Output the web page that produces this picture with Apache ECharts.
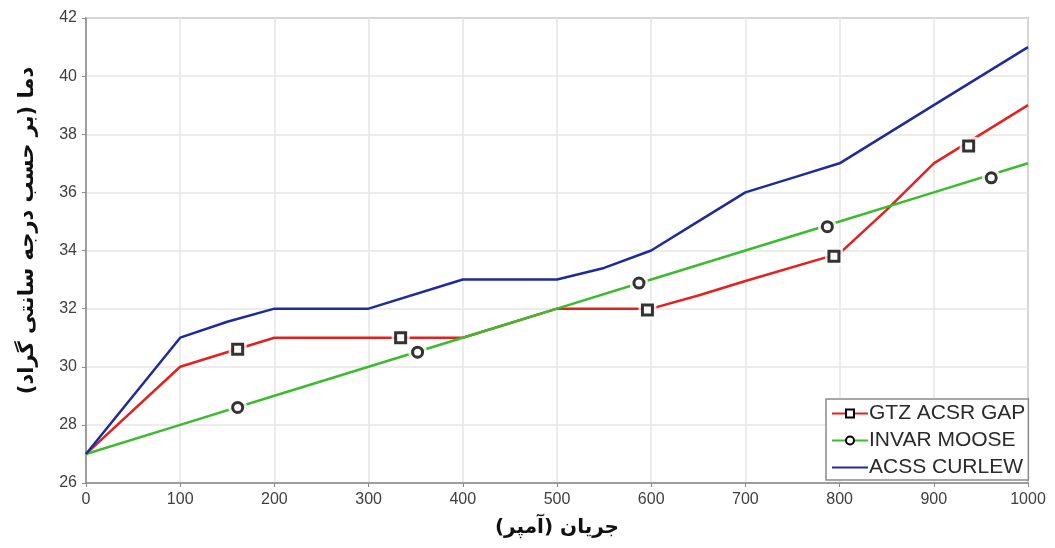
<!DOCTYPE html>
<html>
<head>
<meta charset="utf-8">
<script src="https://cdn.jsdelivr.net/npm/echarts@6/dist/echarts.min.js"></script>
<style>
html,body{margin:0;padding:0;background:#fff;}
#c{width:1055px;height:548px;}
</style>
</head>
<body>
<div id="c"></div>
<script>
// ---- data ----
const seriesNames = ['GTZ ACSR GAP', 'INVAR MOOSE', 'ACSS CURLEW'];

const gtzX = [0, 100, 160, 200, 300, 400, 500, 600, 650, 700, 800, 850, 900, 1000];
const gtzY = [27, 30, 30.6, 31, 31, 31, 32, 32, 32.45, 32.95, 33.9, 35.4, 37.0, 39];

const invarX = [0, 100, 200, 300, 400, 500, 600, 700, 800, 900, 1000];
const invarY = [27, 28, 29, 30, 31, 32, 33, 34, 35, 36, 37];

const acssX = [0, 100, 150, 200, 300, 400, 500, 550, 600, 650, 700, 750, 800, 900, 1000];
const acssY = [27, 31, 31.55, 32, 32, 33, 33, 33.4, 34, 35.0, 36, 36.5, 37, 39, 41];

// marker positions
const gtzMarkX = [161, 334, 596, 794, 937];
const gtzMarkY = [30.6, 31.0, 31.95, 33.8, 37.6];
const invarMarkX = [161, 352, 587, 787, 961];
const invarMarkY = [28.6, 30.5, 32.88, 34.82, 36.5];

const xTicks = [0, 100, 200, 300, 400, 500, 600, 700, 800, 900, 1000];
const yTicks = [26, 28, 30, 32, 34, 36, 38, 40, 42];

const xTitle = 'جریان (آمپر)';
const yTitle = 'دما (بر حسب درجه سانتی گراد)';

// ---- build ----
const pairs = (xs, ys) => xs.map((x, i) => [x, ys[i]]);
const RED = '#e3221f', GREEN = '#3dbb2f', BLUE = '#1f2a9c';

const chart = echarts.init(document.getElementById('c'), null, {renderer: 'canvas'});
const gapStyle = {color: '#ffffff', borderWidth: 0};

chart.setOption({
  backgroundColor: '#ffffff',
  animation: false,
  grid: {left: 86, right: 27, top: 18, bottom: 65, show: true, borderColor: '#8a8a8a', borderWidth: 1.5},
  xAxis: {
    type: 'value', min: 0, max: 1000, interval: 100,
    axisLine: {show: true, onZero: false, lineStyle: {color: '#8a8a8a', width: 1.5}},
    axisTick: {show: true, inside: false, length: 4, lineStyle: {color: '#8a8a8a'}},
    axisLabel: {color: '#404040', fontFamily: 'Liberation Sans', fontSize: 16, margin: 9,
      formatter: v => xTicks.indexOf(v) >= 0 ? String(v) : ''},
    splitLine: {show: true, lineStyle: {color: '#e6e6e6', width: 1.5}},
    name: xTitle, nameLocation: 'middle', nameGap: 35,
    nameTextStyle: {fontFamily: 'DejaVu Sans', fontWeight: 'bold', fontSize: 20, color: '#111'}
  },
  yAxis: {
    type: 'value', min: 26, max: 42, interval: 2,
    axisLine: {show: true, onZero: false, lineStyle: {color: '#8a8a8a', width: 1.5}},
    axisTick: {show: true, inside: false, length: 4, lineStyle: {color: '#8a8a8a'}},
    axisLabel: {color: '#404040', fontFamily: 'Liberation Sans', fontSize: 16, margin: 9,
      formatter: v => yTicks.indexOf(v) >= 0 ? String(v) : ''},
    splitLine: {show: true, lineStyle: {color: '#e6e6e6', width: 1.5}},
    name: yTitle, nameLocation: 'middle', nameGap: 48, nameRotate: 90,
    nameTextStyle: {fontFamily: 'DejaVu Sans', fontWeight: 'bold', fontSize: 21, color: '#111', padding: [0, 0, 0, 40]}
  },
  legend: {
    left: 826, top: 399, orient: 'vertical', align: 'left',
    backgroundColor: '#ffffff', borderColor: '#8a8a8a', borderWidth: 1.5,
    padding: [4, 3, 2, 5], itemGap: 6, itemWidth: 36, itemHeight: 10,
    textStyle: {fontFamily: 'Liberation Sans', fontSize: 21, color: '#2a2a2a', padding: [0, 0, 0, -4]},
    data: seriesNames
  },
  series: [
    {name: seriesNames[0], type: 'line', data: pairs(gtzX, gtzY), showSymbol: false,
      symbol: 'rect', symbolSize: 8,
      lineStyle: {color: RED, width: 2.5}, itemStyle: {color: '#fff', borderColor: '#000', borderWidth: 2.5}, z: 3},
    {name: seriesNames[1], type: 'line', data: pairs(invarX, invarY), showSymbol: false,
      symbol: 'circle', symbolSize: 8,
      lineStyle: {color: GREEN, width: 2.5}, itemStyle: {color: '#fff', borderColor: '#000', borderWidth: 2.5}, z: 3.5},
    {name: seriesNames[2], type: 'line', data: pairs(acssX, acssY), showSymbol: false,
      symbol: 'none',
      lineStyle: {color: BLUE, width: 2.5}, itemStyle: {color: 'rgba(0,0,0,0)', borderWidth: 0}, z: 4},
    // white gaps around markers
    {type: 'scatter', data: pairs(gtzMarkX, gtzMarkY), symbol: 'rect', symbolSize: 18, itemStyle: gapStyle, z: 5, silent: true},
    {type: 'scatter', data: pairs(invarMarkX, invarMarkY), symbol: 'circle', symbolSize: 19, itemStyle: gapStyle, z: 5, silent: true},
    // markers
    {type: 'scatter', data: pairs(gtzMarkX, gtzMarkY), symbol: 'rect', symbolSize: 10,
      itemStyle: {color: '#fff', borderColor: '#000', borderWidth: 3}, z: 6, silent: true},
    {type: 'scatter', data: pairs(invarMarkX, invarMarkY), symbol: 'circle', symbolSize: 10,
      itemStyle: {color: '#fff', borderColor: '#000', borderWidth: 3}, z: 6, silent: true}
  ]
});
</script>
</body>
</html>
